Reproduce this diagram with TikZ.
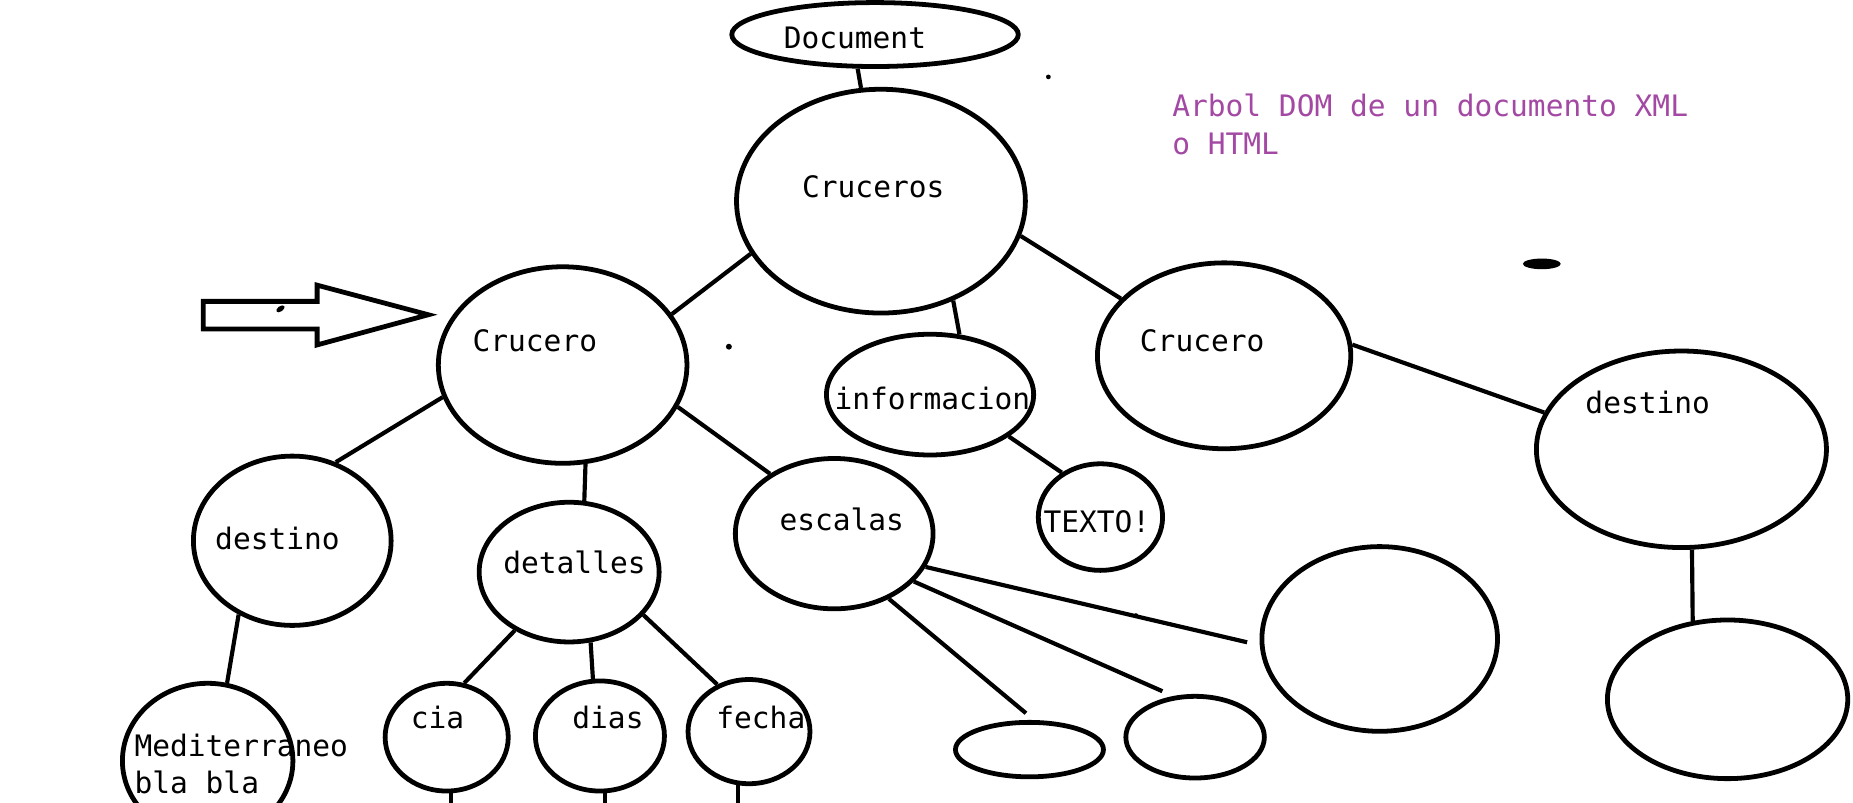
\documentclass[tikz,border=0pt]{standalone}
\usepackage{fontspec}
\setmonofont{DejaVu Sans Mono}
\usepackage{tikz}
\usetikzlibrary{shapes.geometric,positioning}

\begin{document}
\begin{tikzpicture}[x=0.01cm,y=-0.01cm,
    blob/.style={draw=black,ellipse,line width=1.15pt,inner sep=0pt},
    wh/.style 2 args={minimum width=#1,minimum height=#2},
    twig/.style={line width=1pt},
    tag/.style={anchor=base,inner sep=0pt,font=\ttfamily\fontsize{7.1}{9.1}\selectfont}]
        \definecolor{paintpurple}{RGB}{163,73,164}
        \useasboundingbox (0,0) rectangle (1566,677.8);

        % the tree
        \node[blob,wh={2.42cm}{0.54cm}] (doc) at (739.5,29.2) {};
        \node[blob,wh={2.44cm}{1.89cm}] (cruceros) at (744.5,170) {};
        \node[blob,wh={2.10cm}{1.66cm}] (crA) at (475.5,308.5) {};
        \node[blob,wh={1.75cm}{1.02cm}] (info) at (786,333.5) {};
        \node[blob,wh={2.14cm}{1.57cm}] (crB) at (1034.5,300.7) {};
        \node[blob,wh={2.45cm}{1.66cm}] (destB) at (1421,379.7) {};
        \node[blob,wh={2.03cm}{1.34cm}] (empB) at (1460,591) {};
        \node[blob,wh={1.05cm}{0.90cm}] (texto) at (930,437) {};
        \node[blob,wh={1.67cm}{1.43cm}] (destA) at (247,457) {};
        \node[blob,wh={1.52cm}{1.18cm}] (det) at (481,483.5) {};
        \node[blob,wh={1.67cm}{1.27cm}] (esc) at (705,451) {};
        \node[blob,wh={1.44cm}{1.31cm}] (medit) at (175.5,643) {};
        \node[blob,wh={1.04cm}{0.91cm}] (cia) at (377.5,623) {};
        \node[blob,wh={1.09cm}{0.93cm}] (dias) at (507,622) {};
        \node[blob,wh={1.03cm}{0.88cm}] (fecha) at (633,618.3) {};
        \node[blob,wh={1.25cm}{0.46cm}] (eA) at (870,633.5) {};
        \node[blob,wh={1.17cm}{0.69cm}] (eB) at (1010,623) {};
        \node[blob,wh={1.99cm}{1.56cm}] (eC) at (1166,540) {};

        \node[tag] (tDoc) at (722.5,41.4) {Document};
        \node[tag] (tCruceros) at (738,166.6) {Cruceros};
        \node[tag] (tCrA) at (452,297.2) {Crucero};
        \node[tag] (tCrB) at (1016,297.2) {Crucero};
        \node[tag] (tInfo) at (788,346) {informacion};
        \node[tag] (tDestB) at (1392.5,349.3) {destino};
        \node[tag] (tTexto) at (927,449.9) {TEXTO!};
        \node[tag] (tDestA) at (234.5,464) {destino};
        \node[tag] (tDet) at (485.5,484.5) {detalles};
        \node[tag] (tEsc) at (711.4,448.5) {escalas};
        \node[tag] (tCia) at (369.8,616) {cia};
        \node[tag] (tDias) at (513.8,616) {dias};
        \node[tag] (tFecha) at (643,616) {fecha};
        % base of a two-line tag is its last line
        \node[tag,anchor=base west,align=left] (tMedit) at (113,671) {Mediterraneo\\bla bla};
        \node[tag,anchor=base west,align=left,text=paintpurple] (tTitle) at (990,130.2)
          {Arbol DOM de un documento XML\\o HTML};

        \draw[twig] (doc.243) -- (cruceros.100);
        \draw[twig] (cruceros.202) -- (crA.25);
        \draw[twig] (cruceros.306) -- (info.64);
        \draw[twig] (cruceros.346) -- (crB.151);
        \draw[twig] (info.332) -- (texto.131);
        \draw[twig] (crB.5) -- (destB.165);
        \draw[twig] (destB.276) -- (empB.114);
        \draw[twig] (crA.195) -- (destA.61);
        \draw[twig] (crA.283) -- (det.78);
        \draw[twig] (crA.340) -- (esc.137);
        \draw[twig] (destA.234) -- (medit.76);
        \draw[twig] (det.227) -- (cia.72);
        \draw[twig] (det.287) -- (dias.97);
        \draw[twig] (det.330) -- (fecha.124);
        \draw[twig,shorten >=0.09cm] (esc.310) -- (eA.81);
        \draw[twig,shorten >=0.1cm] (esc.329) -- (eB.118);
        \draw[twig,shorten >=0.11cm] (esc.340) -- (eC.183);
        \draw[twig] (cia.274) -- ++(0,20);
        \draw[twig] (dias.275) -- ++(0,20);
        \draw[twig] (fecha.258) -- ++(0,20);

        % block arrow and stray marks
        \draw[line width=1.15pt] (171.7,254.7) -- (268,254.7) -- (268,241) -- (362,266)
          -- (268,291.5) -- (268,278) -- (171.7,278) -- cycle;
        \fill[rotate around={35:(237,261)}] (237,261) ellipse (0.04cm and 0.022cm);
        \fill (886,65) circle (0.02cm);
        \fill (616,293) circle (0.025cm);
        \fill (960,520) circle (0.018cm);
        \fill (1303,223) ellipse (0.16cm and 0.045cm);
\end{tikzpicture}
\end{document}
